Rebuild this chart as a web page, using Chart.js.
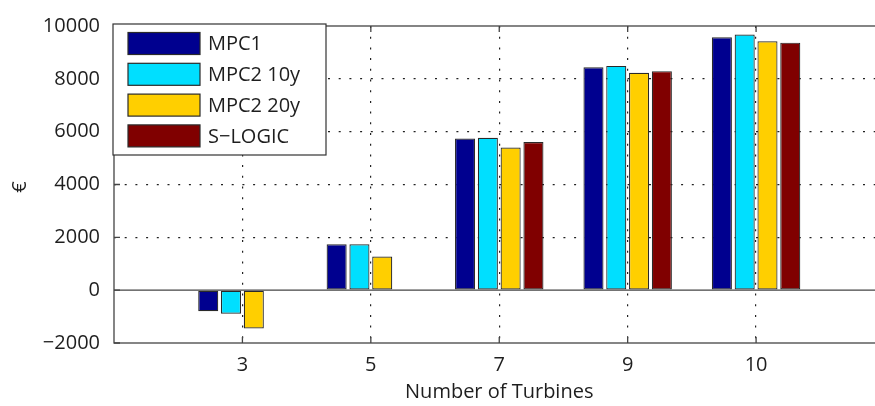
<!DOCTYPE html>
<html lang="en">
<head>
    <meta charset="UTF-8">
    <title>Turbines</title>
    <script src="https://cdn.jsdelivr.net/npm/chart.js@4.4.1/dist/chart.umd.min.js"></script>
    <style>
        html, body { margin: 0; padding: 0; overflow: hidden; background: #fff; }
        canvas { display: block; }
    </style>
</head>
<body>
<canvas id="bar-chart" width="895" height="406"></canvas>
<script>
    // values
    const categories = ['3', '5', '7', '9', '10'];
    const mpc1 = [-800, 1740, 5740, 8440, 9570];
    const mpc2_10y = [-890, 1740, 5770, 8490, 9680];
    const mpc2_20y = [-1450, 1270, 5400, 8230, 9420];
    const slogic = [null, null, 5610, 8290, 9370];
    const yTicks = [-2000, 0, 2000, 4000, 6000, 8000, 10000];

    const seriesNames = ['MPC1', 'MPC2 10y', 'MPC2 20y', 'S\u2212LOGIC'];
    const seriesColors = ['#00008f', '#00dfff', '#ffcf00', '#800000'];
    const yTitle = '\u20ac';

    const FONT = '"Open Sans", sans-serif';
    const TEXT = '#1e1e1e';
    const AXIS = '#444';

    // one blank slot either side so the plot keeps a full category of room
    const labels = [''].concat(categories, ['']);
    const pad = arr => [null].concat(arr, [null]);

    const datasets = [mpc1, mpc2_10y, mpc2_20y, slogic].map((vals, i) => ({
        label: seriesNames[i],
        data: pad(vals),
        backgroundColor: seriesColors[i],
        borderColor: '#2a2a2a',
        borderWidth: 1.2,
        borderSkipped: false,
        categoryPercentage: 0.71,
        barPercentage: 0.88
    }));

    const framePlugin = {
        id: 'frame',
        afterDraw(chart) {
            const ctx = chart.ctx;
            const a = chart.chartArea;
            const x = chart.scales.x, y = chart.scales.y;
            ctx.save();
            ctx.strokeStyle = AXIS;
            ctx.lineWidth = 1.3;
            // box and zero baseline
            ctx.strokeRect(a.left, a.top, a.right - a.left, a.bottom - a.top);
            const y0 = y.getPixelForValue(0);
            ctx.beginPath();
            ctx.moveTo(a.left, y0);
            ctx.lineTo(a.right, y0);
            ctx.stroke();
            // inward ticks
            ctx.beginPath();
            yTicks.forEach(v => {
                const py = y.getPixelForValue(v);
                ctx.moveTo(a.left, py);
                ctx.lineTo(a.left + 6, py);
            });
            categories.forEach((c, i) => {
                const px = x.getPixelForValue(i + 1);
                ctx.moveTo(px, a.bottom);
                ctx.lineTo(px, a.bottom - 6);
                ctx.moveTo(px, a.top);
                ctx.lineTo(px, a.top + 6);
            });
            ctx.stroke();

            // rotated y title
            ctx.save();
            ctx.translate(20, 187);
            ctx.rotate(-Math.PI / 2);
            ctx.font = '20px ' + FONT;
            ctx.fillStyle = TEXT;
            ctx.textAlign = 'center';
            ctx.textBaseline = 'middle';
            ctx.fillText(yTitle, 0, 0);
            ctx.restore();

            // legend box
            const lx = a.left - 1, ly = a.top - 2, lw = 213, lh = 131;
            ctx.fillStyle = '#fff';
            ctx.fillRect(lx, ly, lw, lh);
            ctx.lineWidth = 1.2;
            ctx.strokeStyle = '#333';
            ctx.strokeRect(lx, ly, lw, lh);
            ctx.font = '20px ' + FONT;
            ctx.textBaseline = 'middle';
            ctx.textAlign = 'left';
            chart.data.datasets.forEach((ds, i) => {
                const cy = ly + 19.5 + i * 30.8;
                ctx.fillStyle = ds.backgroundColor;
                ctx.fillRect(lx + 15, cy - 11, 72, 22);
                ctx.strokeStyle = '#2a2a2a';
                ctx.strokeRect(lx + 15, cy - 11, 72, 22);
                ctx.fillStyle = TEXT;
                ctx.fillText(ds.label, lx + 95, cy + 1);
            });
            ctx.restore();
        }
    };

    new Chart(document.getElementById('bar-chart'), {
        type: 'bar',
        data: { labels: labels, datasets: datasets },
        options: {
            responsive: false,
            animation: false,
            layout: { padding: { top: 16, right: 10.5, left: 0, bottom: 0 } },
            plugins: { legend: { display: false }, tooltip: { enabled: false } },
            scales: {
                x: {
                    offset: false,
                    afterFit: s => { s.height = 63; },
                    grid: {
                        offset: false,
                        drawTicks: false,
                        color: c => (c.index === 0 || c.index === labels.length - 1) ? 'rgba(0,0,0,0)' : '#222',
                        lineWidth: 1.2
                    },
                    border: { display: false, dash: [2, 8.7] },
                    ticks: { color: TEXT, font: { family: FONT, size: 20 }, padding: 10, maxRotation: 0, autoSkip: false },
                    title: {
                        display: true,
                        text: 'Number of Turbines',
                        color: TEXT,
                        font: { family: FONT, size: 20 },
                        padding: { top: 0, bottom: 2 }
                    }
                },
                y: {
                    min: -2000,
                    max: 10000,
                    afterFit: s => { s.width = 114; },
                    afterBuildTicks: s => { s.ticks = yTicks.map(v => ({ value: v })); },
                    grid: {
                        drawTicks: false,
                        color: c => (c.tick && (c.tick.value === 0 || c.tick.value === -2000 || c.tick.value === 10000)) ? 'rgba(0,0,0,0)' : '#222',
                        lineWidth: 1.2
                    },
                    border: { display: false, dash: [2, 8.7] },
                    ticks: {
                        color: TEXT,
                        font: { family: FONT, size: 20 },
                        padding: 14,
                        callback: v => (v < 0 ? '\u2212' : '') + Math.abs(v)
                    },
                    title: { display: false }
                }
            }
        },
        plugins: [framePlugin]
    });
</script>
</body>
</html>
